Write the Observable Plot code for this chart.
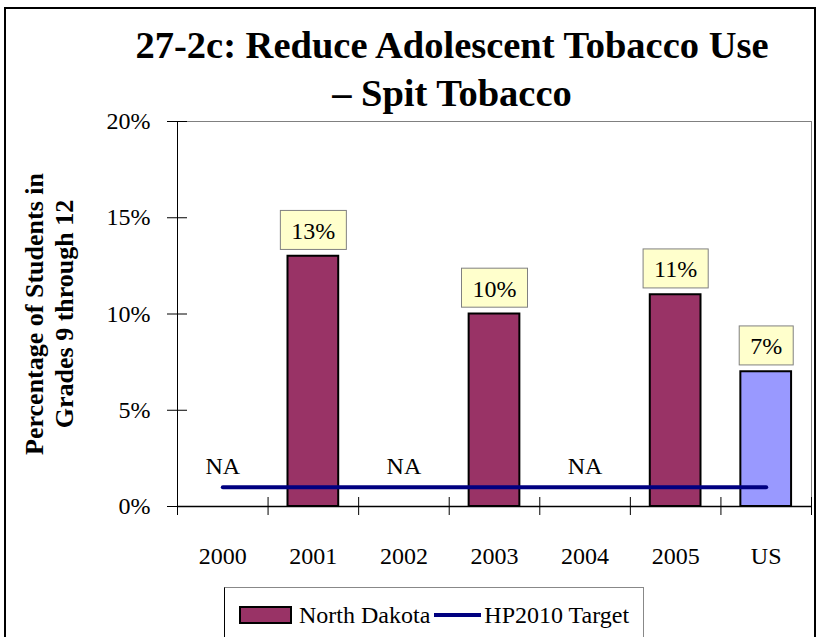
<!DOCTYPE html>
<html>
<head>
<meta charset="utf-8">
<script src="https://cdn.jsdelivr.net/npm/d3@7"></script>
<script src="https://cdn.jsdelivr.net/npm/@observablehq/plot@0.6"></script>
<style>
  html, body { margin: 0; padding: 0; background: #fff; }
  #wrap { position: relative; width: 822px; height: 637px; overflow: hidden; font-family: "Liberation Serif", "Times New Roman", serif; color: #000; }
  #border { position: absolute; left: 4px; top: 7px; width: 812px; height: 660px; border: 2px solid #000; box-sizing: border-box; }
  #title { position: absolute; left: 52px; width: 800px; top: 21px; text-align: center; font-weight: bold; font-size: 38.5px; line-height: 48px; }
  #chart { position: absolute; left: 0; top: 0; }
  #legend { position: absolute; left: 224px; top: 587px; width: 420px; height: 70px; border: 1px solid #000; border-top-color: #888; border-right-color: #888; box-sizing: border-box; background: #fff; }
  #legend .row { position: absolute; left: 14px; top: 10px; height: 34px; display: flex; align-items: center; font-size: 24px; white-space: nowrap; }
  #legend .sw { width: 53px; height: 18px; background: #993366; border: 2px solid #000; box-sizing: border-box; margin-right: 7px; }
  #legend .ln { width: 47px; height: 4px; background: #000080; margin-left: 4px; margin-right: 3px; }
</style>
</head>
<body>
<div id="wrap">
  <div id="border"></div>
  <div id="chart"></div>
  <div id="title"></div>
  <div id="legend"></div>
</div>
<script>
// ---- data ----
const categories = ["2000", "2001", "2002", "2003", "2004", "2005", "US"];
const ndValues = [null, 0.13, null, 0.10, null, 0.11, 0.07];
const targetValues = [0.01, 0.01, 0.01, 0.01, 0.01, 0.01, 0.01];
const yTicks = [0, 0.05, 0.10, 0.15, 0.20];
const titleLines = ["27-2c: Reduce Adolescent Tobacco Use", "– Spit Tobacco"];
const yTitleLines = ["Percentage of Students in", "Grades 9 through 12"];
const legendLabels = ["North Dakota", "HP2010 Target"];
const naLabel = "NA";

// ---- build ----
const rows = categories.map((c, i) => ({cat: c, i, value: ndValues[i], target: targetValues[i]}));
const present = rows.filter(d => d.value != null);
const missing = rows.filter(d => d.value == null);
const pct = d3.format(".0%");
const barFill = d => d.cat === "US" ? "#9999FF" : "#993366";

const svg = Plot.plot({
  width: 822,
  height: 637,
  marginLeft: 177,
  marginRight: 11,
  marginTop: 121,
  marginBottom: 131,
  x: {domain: [0, categories.length], axis: null},
  y: {domain: [0, 0.2], axis: null},
  color: {type: "identity"},
  style: {fontFamily: "'Liberation Serif', 'Times New Roman', serif", fontSize: "24px", color: "#000", background: "transparent", overflow: "visible"},
  marks: [
    // plot frame: gray top/right
    Plot.ruleY([0.2], {stroke: "#808080"}),
    Plot.ruleX([categories.length], {stroke: "#808080"}),
    // bars
    Plot.rectY(present, {x1: d => d.i + 0.22, x2: d => d.i + 0.78, y1: 0, y2: "value", fill: barFill, stroke: "#000", strokeWidth: 2}),
    // axes lines
    Plot.ruleX([0], {stroke: "#000"}),
    Plot.ruleY([0], {stroke: "#000", strokeWidth: 1.5}),
    // cross ticks
    Plot.ruleY(yTicks, {y: d => d, x1: 0, x2: 0, insetLeft: 10, insetRight: 10, stroke: "#000"}),
    Plot.ruleX(d3.range(categories.length + 1), {x: d => d, y1: 0, y2: 0, insetTop: 9, insetBottom: 9, stroke: "#000"}),
    // target line
    Plot.line(rows, {x: d => d.i + 0.5, y: "target", stroke: "#000080", strokeWidth: 4}),
    // NA labels
    Plot.text(missing, {x: d => d.i + 0.5, y: 0, text: () => naLabel, dy: -40, fontSize: 24, lineAnchor: "middle"}),
    // value labels
    Plot.text(present, {x: d => d.i + 0.5, y: "value", text: d => pct(d.value), dy: -25, fontSize: 24, lineAnchor: "middle", className: "vlabel"}),
    // y axis labels
    Plot.axisY({ticks: yTicks, tickFormat: pct, tickSize: 0, tickPadding: 27, fontSize: 24, label: null}),
    // x axis labels
    Plot.axisX({ticks: categories.map((c, i) => i + 0.5), tickFormat: v => categories[Math.floor(v)], tickSize: 0, tickPadding: 40, fontSize: 24, label: null}),
    // y title
    Plot.text([yTitleLines.join("\n")], {frameAnchor: "left", dx: -129, rotate: -90, fontSize: 26, fontWeight: "bold", lineHeight: 1.15, lineAnchor: "middle", textAnchor: "middle"})
  ]
});

document.getElementById("chart").appendChild(svg);

// yellow boxes behind value labels
const labelTexts = present.map(d => pct(d.value));
let labelGroup = null;
for (const g of svg.querySelectorAll("g")) {
  const texts = Array.from(g.children).filter(e => e.tagName.toLowerCase() === "text");
  if (texts.length === labelTexts.length && texts.every((t, k) => t.textContent === labelTexts[k])) { labelGroup = g; break; }
}
if (labelGroup) {
  const texts = Array.from(labelGroup.children).filter(e => e.tagName.toLowerCase() === "text");
  for (const t of texts) {
    const b = t.getBBox();
    const r = document.createElementNS("http://www.w3.org/2000/svg", "rect");
    const cy = b.y + b.height / 2 - 1;
    r.setAttribute("x", b.x - 11);
    r.setAttribute("width", b.width + 22);
    r.setAttribute("y", cy - 19.5);
    r.setAttribute("height", 39);
    r.setAttribute("fill", "#FFFFCC");
    r.setAttribute("stroke", "#808080");
    r.setAttribute("stroke-width", 1);
    const tr = t.getAttribute("transform");
    if (tr) r.setAttribute("transform", tr);
    labelGroup.insertBefore(r, t);
  }
}

// title
const title = document.getElementById("title");
titleLines.forEach(s => { const d = document.createElement("div"); d.textContent = s; title.appendChild(d); });

// legend
const legend = document.getElementById("legend");
const row = document.createElement("div");
row.className = "row";
const sw = document.createElement("span"); sw.className = "sw";
const t1 = document.createElement("span"); t1.textContent = legendLabels[0];
const ln = document.createElement("span"); ln.className = "ln";
const t2 = document.createElement("span"); t2.textContent = legendLabels[1];
row.append(sw, t1, ln, t2);
legend.appendChild(row);
</script>
</body>
</html>
